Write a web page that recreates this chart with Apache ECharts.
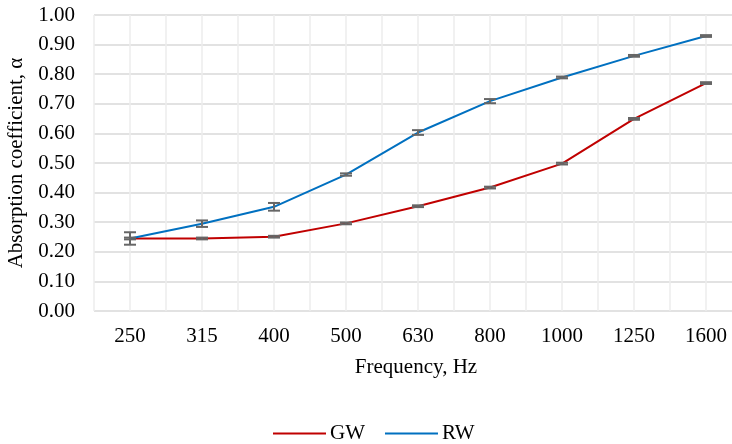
<!DOCTYPE html>
<html>
<head>
<meta charset="utf-8">
<script src="https://cdn.jsdelivr.net/npm/echarts@6/dist/echarts.min.js"></script>
<style>html,body{margin:0;padding:0;background:#fff;}#c{width:732px;height:444px;}</style>
</head>
<body>
<div id="c"></div>
<script>
var categories = ['250', '315', '400', '500', '630', '800', '1000', '1250', '1600'];
var gw = [0.245, 0.245, 0.251, 0.296, 0.354, 0.417, 0.498, 0.649, 0.770];
var rw = [0.245, 0.295, 0.352, 0.461, 0.603, 0.709, 0.789, 0.862, 0.929];
var gwErr = [0.003, 0.003, 0.003, 0.003, 0.003, 0.003, 0.003, 0.003, 0.003];
var rwErr = [0.021, 0.011, 0.013, 0.004, 0.008, 0.007, 0.003, 0.003, 0.003];
var yTicks = ['0.00','0.10','0.20','0.30','0.40','0.50','0.60','0.70','0.80','0.90','1.00'];

var FONT = '"Liberation Serif", "Times New Roman", serif';
function errData(vals, errs) {
  return vals.map(function (v, i) { return [i, v - errs[i], v + errs[i]]; });
}
function renderErr(params, api) {
  var i = api.value(0);
  var lo = api.coord([i, api.value(1)]);
  var hi = api.coord([i, api.value(2)]);
  var hw = 6;
  var st = { stroke: '#666666', lineWidth: 2 };
  return {
    type: 'group',
    children: [
      { type: 'line', shape: { x1: lo[0], y1: lo[1], x2: hi[0], y2: hi[1] }, style: st },
      { type: 'line', shape: { x1: lo[0] - hw, y1: lo[1], x2: lo[0] + hw, y2: lo[1] }, style: st },
      { type: 'line', shape: { x1: hi[0] - hw, y1: hi[1], x2: hi[0] + hw, y2: hi[1] }, style: st }
    ]
  };
}

var chart = echarts.init(document.getElementById('c'), null, { renderer: 'canvas' });
chart.setOption({
  animation: false,
  backgroundColor: '#ffffff',
  textStyle: { fontFamily: FONT },
  grid: { left: 94, top: 15, right: -10, bottom: 133, containLabel: false, outerBoundsMode: 'none' },
  legend: {
    data: ['GW', 'RW'],
    bottom: 0,
    left: 273,
    padding: 0,
    icon: 'rect',
    itemWidth: 53,
    itemHeight: 2,
    itemGap: 20,
    textStyle: { fontFamily: FONT, fontSize: 21, color: '#000', padding: [0, 0, 0, -1] }
  },
  xAxis: [
    {
      type: 'category',
      data: categories,
      boundaryGap: true,
      axisLine: { show: false },
      axisTick: { show: false },
      splitLine: { show: false },
      axisLabel: { fontFamily: FONT, fontSize: 21, color: '#000', margin: 15 },
      name: 'Frequency, Hz',
      nameLocation: 'middle',
      nameGap: 46,
      nameTextStyle: { fontFamily: FONT, fontSize: 21, color: '#000', padding: [0, 4, 0, 0] }
    },
    {
      type: 'value',
      min: 0, max: 18, interval: 1,
      position: 'bottom',
      axisLine: { show: false },
      axisTick: { show: false },
      axisLabel: { show: false },
      splitLine: { show: true, lineStyle: { color: '#ededed', width: 1.5 } }
    }
  ],
  yAxis: {
    type: 'value',
    min: 0, max: 1, interval: 0.1,
    axisLine: { show: false },
    axisTick: { show: false },
    axisLabel: {
      fontFamily: FONT, fontSize: 21, color: '#000', margin: 19,
      formatter: function (v) { return yTicks[Math.round(v * 10)]; }
    },
    splitLine: { lineStyle: { color: '#d9d9d9', width: 1.5 } },
    name: 'Absorption coefficient, α',
    nameLocation: 'middle',
    nameRotate: 90,
    nameGap: 64,
    nameTextStyle: { fontFamily: FONT, fontSize: 21, color: '#000' }
  },
  series: [
    {
      name: 'GW', type: 'line', data: gw, xAxisIndex: 0,
      symbol: 'none', lineStyle: { color: '#C00000', width: 2 }, itemStyle: { color: '#C00000' }, z: 3
    },
    {
      name: 'RW', type: 'line', data: rw, xAxisIndex: 0,
      symbol: 'none', lineStyle: { color: '#0070C0', width: 2 }, itemStyle: { color: '#0070C0' }, z: 3
    },
    {
      name: 'GW err', type: 'custom', xAxisIndex: 0, renderItem: renderErr,
      data: errData(gw, gwErr), z: 5, encode: { x: 0, y: [1, 2] }
    },
    {
      name: 'RW err', type: 'custom', xAxisIndex: 0, renderItem: renderErr,
      data: errData(rw, rwErr), z: 5, encode: { x: 0, y: [1, 2] }
    }
  ]
});
</script>
</body>
</html>
